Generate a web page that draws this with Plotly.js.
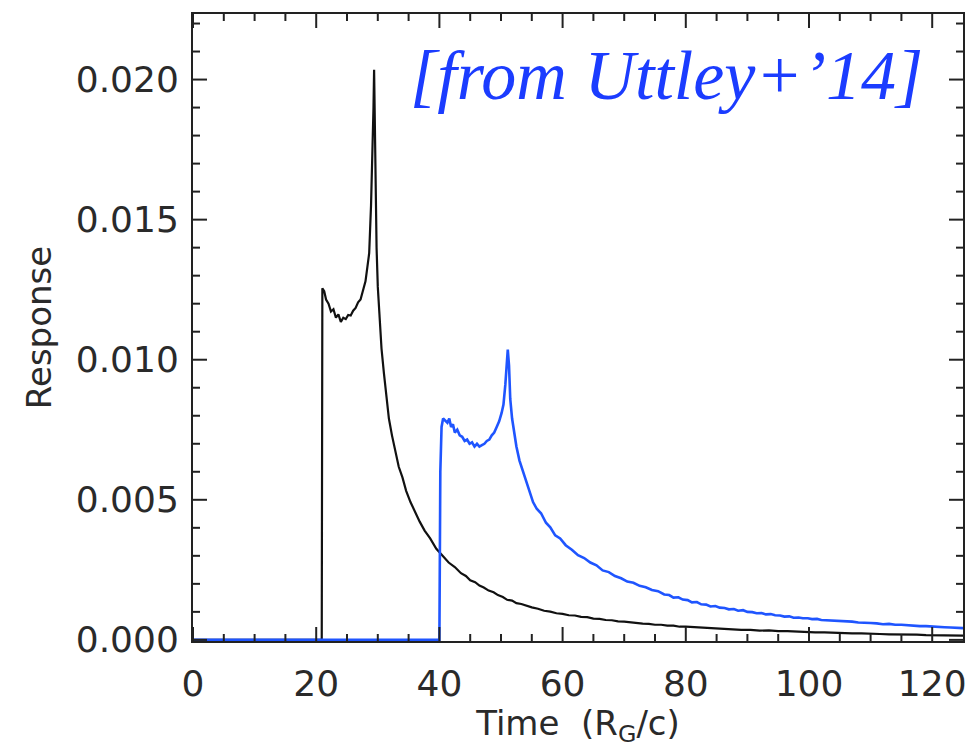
<!DOCTYPE html>
<html>
<head>
<meta charset="utf-8">
<script src="https://cdn.plot.ly/plotly-3.0.1.min.js"></script>
<style>html,body{margin:0;padding:0;background:#fff;}#chart{width:969px;height:748px;}</style>
</head>
<body>
<div id="chart"></div>
<script>
// Black response (earlier)
var blackTime = [0, 20.9, 21.0, 21.3, 21.6, 22.0, 22.4, 22.8, 23.2, 23.6, 24.0, 24.4, 24.8, 25.2, 25.6, 26.0, 26.4, 26.8, 27.2, 27.6, 28.0, 28.3, 28.6, 28.9, 29.1, 29.3, 29.4, 29.6, 29.8, 30.0, 30.3, 30.6, 31.0, 31.4, 31.8, 32.3, 32.8, 33.4, 34.0, 34.6, 35.3, 36.0, 36.8, 37.6, 38.5, 39.5, 40.5, 41.5, 42.5, 43.5, 44.3, 45, 45.8, 46.5, 47.2, 48, 48.8, 49.5, 50.3, 51, 51.8, 52.5, 53.3, 54, 55, 56, 57, 58, 59, 60, 61, 62, 63, 64, 65, 66, 67, 68, 69, 70, 71, 72, 73, 74, 75, 76, 77, 78, 79, 80, 81.5, 83, 84.5, 86, 87.5, 89, 90.5, 92, 93.5, 95, 96.5, 98, 99.5, 101, 102.5, 104, 105.5, 107, 108.5, 110, 111.5, 113, 114.5, 116, 117.5, 119, 120.5, 122, 123.5, 125];
var blackResp = [0, 0, 0.01255, 0.01245, 0.01215, 0.01200, 0.01172, 0.01180, 0.01150, 0.01162, 0.01135, 0.01150, 0.01145, 0.01160, 0.01158, 0.01175, 0.01185, 0.01205, 0.01215, 0.01250, 0.01280, 0.01330, 0.01380, 0.01550, 0.01700, 0.01900, 0.02035, 0.01600, 0.01400, 0.01260, 0.01150, 0.01040, 0.00950, 0.00860, 0.00790, 0.00730, 0.00675, 0.00618, 0.00580, 0.00532, 0.00492, 0.00458, 0.00422, 0.00390, 0.00362, 0.00325, 0.00302, 0.00276, 0.00260, 0.00238, 0.00228, 0.00213, 0.00206, 0.00194, 0.00187, 0.00176, 0.00170, 0.00160, 0.00153, 0.00143, 0.00140, 0.00131, 0.00128, 0.00122, 0.00116, 0.00111, 0.00104, 0.00101, 0.00095, 0.00093, 0.00088, 0.00087, 0.00082, 0.00081, 0.00076, 0.00075, 0.00071, 0.00070, 0.00066, 0.00065, 0.00062, 0.00061, 0.00058, 0.00057, 0.00054, 0.00054, 0.00051, 0.00051, 0.00047, 0.00047, 0.00045, 0.00043, 0.00042, 0.00039, 0.00039, 0.00036, 0.00036, 0.00033, 0.00034, 0.00031, 0.00031, 0.00029, 0.00029, 0.00027, 0.00027, 0.00025, 0.00025, 0.00023, 0.00023, 0.00021, 0.00021, 0.00020, 0.00020, 0.00018, 0.00019, 0.00017, 0.00017, 0.00016, 0.00016, 0.00015];

// Blue response (later)
var blueTime = [0, 40.0, 40.15, 40.35, 40.6, 41.0, 41.3, 41.6, 41.9, 42.2, 42.5, 42.9, 43.3, 43.7, 44.1, 44.5, 44.9, 45.3, 45.7, 46.1, 46.5, 46.9, 47.3, 47.7, 48.1, 48.5, 48.9, 49.3, 49.7, 50.1, 50.4, 50.7, 50.9, 51.1, 51.3, 51.5, 51.8, 52.1, 52.5, 53.0, 53.5, 54.0, 54.6, 55.2, 55.8, 56.5, 57.3, 58.0, 58.8, 59.6, 60.5, 61.5, 62.5, 63.5, 64.5, 65.5, 66.5, 67.5, 68.5, 69.5, 70.5, 71.5, 72.5, 73.5, 74.5, 75.5, 76.5, 77.3, 78, 78.8, 79.5, 80.3, 81, 81.8, 82.5, 83.3, 84, 84.8, 85.5, 86.3, 87, 87.8, 88.5, 89.3, 90, 90.8, 91.5, 92.3, 93, 93.8, 94.5, 95.3, 96, 96.8, 97.5, 98.3, 99, 99.8, 100.5, 101.3, 102, 103, 104, 105, 106, 107, 108, 109, 110, 111, 112, 113, 114, 115, 116, 117, 118, 119, 120, 121, 122, 123, 124, 125];
var blueResp = [0, 0, 0.00600, 0.00760, 0.00790, 0.00780, 0.00775, 0.00790, 0.00760, 0.00770, 0.00740, 0.00750, 0.00730, 0.00725, 0.00710, 0.00715, 0.00700, 0.00705, 0.00690, 0.00700, 0.00690, 0.00695, 0.00700, 0.00710, 0.00715, 0.00730, 0.00740, 0.00760, 0.00780, 0.00810, 0.00840, 0.00910, 0.00980, 0.01036, 0.00980, 0.00860, 0.00790, 0.00740, 0.00690, 0.00640, 0.00605, 0.00568, 0.00532, 0.00492, 0.00468, 0.00452, 0.00418, 0.00402, 0.00373, 0.00362, 0.00338, 0.00322, 0.00302, 0.00292, 0.00276, 0.00266, 0.00248, 0.00242, 0.00228, 0.00220, 0.00208, 0.00204, 0.00193, 0.00188, 0.00178, 0.00174, 0.00162, 0.00160, 0.00151, 0.00152, 0.00144, 0.00142, 0.00134, 0.00135, 0.00127, 0.00126, 0.00119, 0.00121, 0.00115, 0.00114, 0.00109, 0.00110, 0.00104, 0.00106, 0.00100, 0.00099, 0.00095, 0.00096, 0.00091, 0.00092, 0.00088, 0.00087, 0.00083, 0.00084, 0.00079, 0.00080, 0.00077, 0.00077, 0.00074, 0.00075, 0.00071, 0.00070, 0.00068, 0.00067, 0.00065, 0.00065, 0.00062, 0.00062, 0.00060, 0.00059, 0.00056, 0.00057, 0.00054, 0.00054, 0.00052, 0.00052, 0.00049, 0.00049, 0.00047, 0.00047, 0.00045, 0.00044, 0.00043, 0.00042, 0.00041];

// Tick values
var xMajorTicks = [0, 20, 40, 60, 80, 100, 120];
var xMinorTicks = [5, 10, 15, 25, 30, 35, 45, 50, 55, 65, 70, 75, 85, 90, 95, 105, 110, 115];
var yMajorTicks = [0, 0.005, 0.010, 0.015, 0.020];
var yMinorTicks = [0.001, 0.002, 0.003, 0.004, 0.006, 0.007, 0.008, 0.009, 0.011, 0.012, 0.013, 0.014, 0.016, 0.017, 0.018, 0.019, 0.021, 0.022];
var yTickText = ['0.000', '0.005', '0.010', '0.015', '0.020'];

var traces = [
  {x: blackTime, y: blackResp, type: 'scatter', mode: 'lines',
   line: {color: '#111111', width: 2.2}},
  {x: blueTime, y: blueResp, type: 'scatter', mode: 'lines',
   line: {color: '#1f55ff', width: 2.6}}
];

// Inward tick marks on all four sides, placed through the axes' own scales
var tickLine = {color: '#222', width: 2};
var shapes = [];
function addXTicks(vals, len) {
  vals.forEach(function (v) {
    shapes.push({type: 'line', xref: 'x', yref: 'paper', ysizemode: 'pixel', yanchor: 0,
      x0: v, x1: v, y0: 0, y1: len, line: tickLine, layer: 'above'});
    shapes.push({type: 'line', xref: 'x', yref: 'paper', ysizemode: 'pixel', yanchor: 1,
      x0: v, x1: v, y0: 0, y1: -len, line: tickLine, layer: 'above'});
  });
}
function addYTicks(vals, len) {
  vals.forEach(function (v) {
    shapes.push({type: 'line', xref: 'paper', yref: 'y', xsizemode: 'pixel', xanchor: 0,
      x0: 0, x1: len, y0: v, y1: v, line: tickLine, layer: 'above'});
    shapes.push({type: 'line', xref: 'paper', yref: 'y', xsizemode: 'pixel', xanchor: 1,
      x0: 0, x1: -len, y0: v, y1: v, line: tickLine, layer: 'above'});
  });
}
addXTicks(xMajorTicks, 14);
addXTicks(xMinorTicks, 7);
addYTicks(yMajorTicks, 14);
addYTicks(yMinorTicks, 7);

var tickFont = {family: 'DejaVu Sans', size: 36, color: '#2a2a2a'};

var layout = {
  width: 969, height: 748,
  margin: {l: 193, r: 6, t: 14, b: 107},
  showlegend: false,
  hovermode: false,
  xaxis: {
    range: [0, 125], tickmode: 'array', tickvals: xMajorTicks, ticktext: xMajorTicks.map(String),
    ticks: '', showgrid: false, zeroline: false,
    showline: true, mirror: true, linecolor: '#222', linewidth: 2,
    tickfont: tickFont, ticklabelstandoff: 10,
    title: {text: 'Time  (R<sub>G</sub>/c)', font: {family: 'DejaVu Sans', size: 34, color: '#2a2a2a'}, standoff: 4}
  },
  yaxis: {
    range: [-0.00004, 0.02234], tickmode: 'array', tickvals: yMajorTicks, ticktext: yTickText,
    ticks: '', showgrid: false, zeroline: false,
    showline: true, mirror: true, linecolor: '#222', linewidth: 2,
    tickfont: tickFont, ticklabelstandoff: 5,
    title: {text: 'Response', font: {family: 'DejaVu Sans', size: 34, color: '#2a2a2a'}, standoff: 14}
  },
  shapes: shapes,
  annotations: [{
    xref: 'paper', yref: 'paper', x: 0.951, y: 0.902, xanchor: 'right', yanchor: 'middle',
    text: '[from Uttley+’14]', showarrow: false,
    font: {family: 'Liberation Serif', size: 70, color: '#1b3cff', style: 'italic'}
  }]
};

Plotly.newPlot('chart', traces, layout, {displayModeBar: false});
</script>
</body>
</html>
